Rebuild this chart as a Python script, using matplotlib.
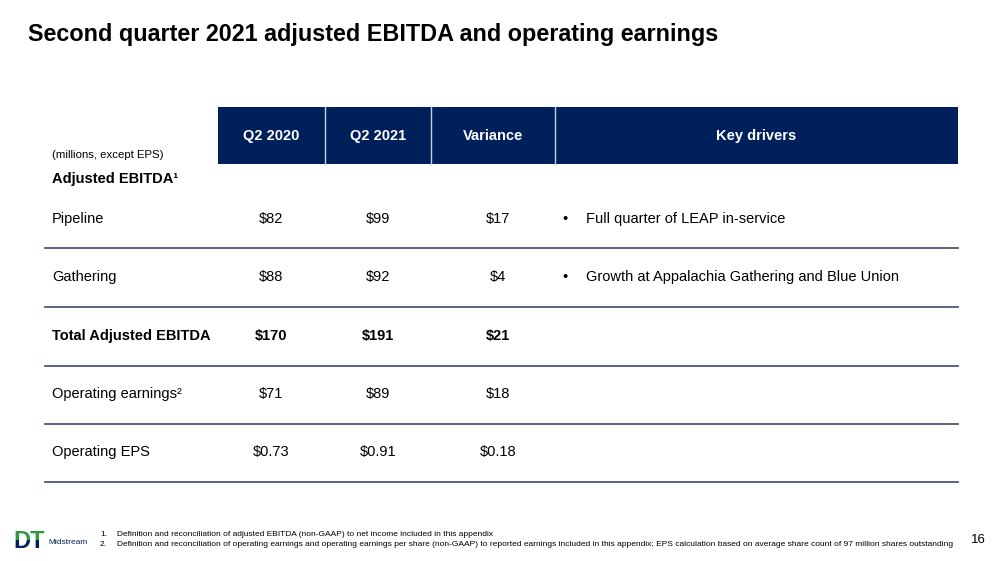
import matplotlib
matplotlib.use("Agg")
import matplotlib.pyplot as plt
from matplotlib.patches import Rectangle

plt.rcParams['font.family'] = ['Liberation Sans', 'DejaVu Sans']

title = "Second quarter 2021 adjusted EBITDA and operating earnings"
columns = ["Q2 2020", "Q2 2021", "Variance", "Key drivers"]
unit_note = "(millions, except EPS)"
section = "Adjusted EBITDA\u00b9"
rows = ["Pipeline", "Gathering", "Total Adjusted EBITDA", "Operating earnings\u00b2", "Operating EPS"]
q2_2020 = ["$82", "$88", "$170", "$71", "$0.73"]
q2_2021 = ["$99", "$92", "$191", "$89", "$0.91"]
variance = ["$17", "$4", "$21", "$18", "$0.18"]
drivers = ["Full quarter of LEAP in-service", "Growth at Appalachia Gathering and Blue Union", "", "", ""]
bold_rows = [False, False, True, False, False]
footnotes = [
    "Definition and reconciliation of adjusted EBITDA (non-GAAP) to net income included in this appendix",
    "Definition and reconciliation of operating earnings and operating earnings per share (non-GAAP) to reported earnings included in this appendix; EPS calculation based on average share count of 97 million shares outstanding",
]
page_number = "16"

NAVY = "#00205b"
LINE = "#4a5a74"
GREEN = "#2f9a46"

fig = plt.figure(figsize=(10.02, 5.61), dpi=100)
ax = fig.add_axes([0, 0, 1, 1])
ax.set_xlim(0, 1002)
ax.set_ylim(561, 0)
ax.axis("off")

ax.text(28, 34, title, fontsize=16.8, fontweight="bold", color="black", va="center", ha="left")

# header
col_edges = [218, 325, 431, 555, 958]
ax.add_patch(Rectangle((col_edges[0], 107), col_edges[-1] - col_edges[0], 57, color=NAVY, lw=0))
for xe in col_edges[1:-1]:
    ax.plot([xe, xe], [107, 164], color="#c8cfdc", lw=1)
for i, c in enumerate(columns):
    cx = (col_edges[i] + col_edges[i + 1]) / 2
    ax.text(cx, 136, c, fontsize=10.5, fontweight="bold", color="white", ha="center", va="center")

ax.text(52, 155, unit_note, fontsize=8.2, color="black", ha="left", va="center")
ax.text(52, 179, section, fontsize=10.5, fontweight="bold", color="black", ha="left", va="center")

row_y = [219, 277, 336, 394, 452]
line_y = [248, 307, 366, 424, 482]
val_x = [271, 378, 498]
for i, r in enumerate(rows):
    y = row_y[i]
    fw = "bold" if bold_rows[i] else "normal"
    ax.text(52, y, r, fontsize=10.5, fontweight=fw, color="black", ha="left", va="center")
    for x, v in zip(val_x, [q2_2020[i], q2_2021[i], variance[i]]):
        ax.text(x, y, v, fontsize=10.5, fontweight=fw, color="black", ha="center", va="center")
    if drivers[i]:
        ax.text(562, y, "\u2022", fontsize=10.5, color="black", ha="left", va="center")
        ax.text(586, y, drivers[i], fontsize=10.5, color="black", ha="left", va="center")
    ax.plot([45, 958], [line_y[i], line_y[i]], color=LINE, lw=1.3)

# footnotes
for j, fn in enumerate(footnotes):
    fy = 535 + j * 9
    ax.text(100, fy, f"{j + 1}.", fontsize=6, color="black", ha="left", va="center")
    ax.text(117, fy, fn, fontsize=6, color="black", ha="left", va="center")

ax.text(978, 540, page_number, fontsize=9.5, color="black", ha="center", va="center")

# logo: "DT" with green top half, navy bottom half
top_clip = Rectangle((0, 525), 60, 14.5, transform=ax.transData)
bot_clip = Rectangle((0, 539.5), 60, 15, transform=ax.transData)
tg = ax.text(13, 547.5, "DT", fontsize=17, fontweight="bold", color=GREEN, ha="left", va="baseline",
             clip_on=True)
tg.set_clip_path(top_clip)
tn = ax.text(13, 547.5, "DT", fontsize=17, fontweight="bold", color=NAVY, ha="left", va="baseline",
             clip_on=True)
tn.set_clip_path(bot_clip)
ax.text(48, 543, "Midstream", fontsize=6, color=NAVY, ha="left", va="center", fontstretch="condensed")

fig.savefig("out.png", dpi=100)
